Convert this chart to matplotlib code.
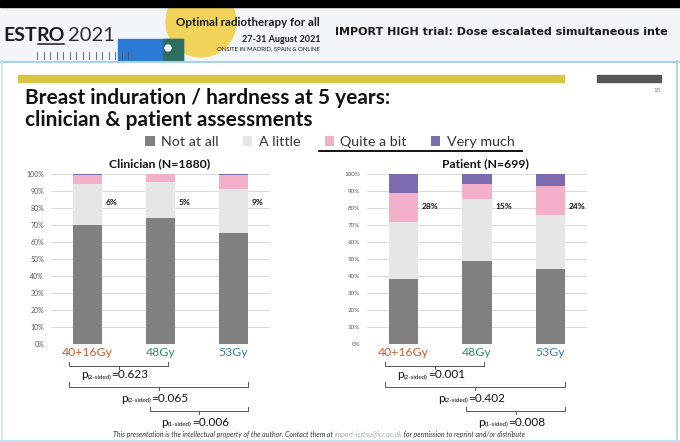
import matplotlib
matplotlib.use('Agg')
import matplotlib.pyplot as plt
from matplotlib.patches import Rectangle, Circle, Patch
from matplotlib.transforms import blended_transform_factory

plt.rcParams['font.family'] = ['Lato', 'DejaVu Sans']

# data
groups = ['40+16Gy', '48Gy', '53Gy']
group_colors = ['#C8602E', '#2E8B6C', '#3A7DB5']
levels = ['Not at all', 'A little', 'Quite a bit', 'Very much']
level_colors = ['#808080', '#E6E6E6', '#F4B0CA', '#7D6BAF']

clinician_not = [70, 74, 65]
clinician_little = [24, 21, 26]
clinician_quite = [5.4, 5.0, 8.3]
clinician_very = [0.6, 0.0, 0.7]

patient_not = [38, 49, 44]
patient_little = [34, 36, 32]
patient_quite = [17, 9, 17]
patient_very = [11, 6, 7]

comparisons = [(0, 1), (0, 2), (1, 2)]
p_sides = ['2-sided', '2-sided', '1-sided']
clinician_p = ['0.623', '0.065', '0.006']
patient_p = ['0.001', '0.402', '0.008']

W, H = 680, 442
fig = plt.figure(figsize=(W / 100, H / 100), dpi=100)
fig.patch.set_facecolor('white')

# background axes in pixel coordinates for the slide decorations
bg = fig.add_axes([0, 0, 1, 1])
bg.set_xlim(0, W)
bg.set_ylim(H, 0)
bg.axis('off')

# header
bg.add_patch(Rectangle((0, 7), W, 54, color='#F3F6F9', zorder=0))
bg.add_patch(Circle((201, 22), 35, color='#F2D35A', zorder=1))
bg.add_patch(Rectangle((118, 39), 65, 22, color='#2B7BD6', zorder=2))
bg.add_patch(Rectangle((163, 39), 20, 22, color='#2F6E5E', zorder=2))
bg.add_patch(Circle((168, 48), 3, color='white', zorder=3))
bg.add_patch(Rectangle((0, 0), W, 7, color='black', zorder=4))
for k in range(15):
    bg.plot([37 + k * 6.5, 37 + k * 6.5], [52, 59], color='#4A5566', lw=0.6, zorder=3)

e1 = bg.text(3, 41, 'EST', fontsize=14, fontweight='bold', va='baseline', ha='left',
             color='#1A1A1A', zorder=5)
e2 = bg.annotate('RO', xy=(1, 0), xycoords=e1, fontsize=14, fontweight='bold', va='bottom',
                 ha='left', color='#1A1A1A', zorder=5)
bg.annotate('2021', xy=(1, 0), xycoords=e2, xytext=(2, 0), textcoords='offset points',
            fontsize=14.5, va='bottom', ha='left', color='#2A2A2A', zorder=5)
bg.text(320, 23, 'Optimal radiotherapy for all', fontsize=8.3, fontweight='bold',
        ha='right', va='center', color='#1A1A1A', zorder=5)
bg.text(320, 39, '27-31 August 2021', fontsize=6.5, fontweight='bold',
        ha='right', va='center', color='#1A1A1A', zorder=5)
bg.text(320, 49, 'ONSITE IN MADRID, SPAIN & ONLINE', fontsize=4.3,
        ha='right', va='center', color='#1A1A1A', zorder=5)
bg.text(335, 32, 'IMPORT HIGH trial: Dose escalated simultaneous inte', fontsize=8.0,
        fontweight='bold', family=['DejaVu Sans'], ha='left', va='center', color='#1A1A1A', zorder=5)

# slide frame
bg.plot([0, W], [61.5, 61.5], color='#A9D2EA', lw=1.5)
bg.plot([1.5, 1.5], [61, H], color='#C7E3F2', lw=1.2)
bg.plot([677, 677], [61, H], color='#A9D2EA', lw=1.2)
bg.plot([0, W], [440.5, 440.5], color='#C7E3F2', lw=1.5)

# bars at the top of the slide
bg.add_patch(Rectangle((18, 75), 546, 7, color='#D8C543'))
bg.add_patch(Rectangle((597, 75), 64, 7, color='#575757'))
bg.text(661, 90, '15', fontsize=4.5, color='#777777', ha='right', va='center')

# title
bg.text(25, 98, 'Breast induration / hardness at 5 years:', fontsize=15, fontweight='bold',
        ha='left', va='center', color='#111111')
bg.text(25, 120, 'clinician & patient assessments', fontsize=15, fontweight='bold',
        ha='left', va='center', color='#111111')

# legend
handles = [Patch(facecolor=c, edgecolor='none') for c in level_colors]
fig.legend(handles, levels, loc='center', bbox_to_anchor=(330 / W, 1 - 142 / H), ncol=4,
           frameon=False, fontsize=10.3, handlelength=0.65, handleheight=0.65,
           handletextpad=0.45, columnspacing=1.7, labelcolor='#333333')
bg.plot([319, 522], [151, 151], color='black', lw=1.3)

# underline for "RO" in the logo, placed after measuring the text
fig.canvas.draw()
rend = fig.canvas.get_renderer()
bb = e2.get_window_extent(rend).transformed(bg.transData.inverted())
bg.plot([bb.x0 + 1, bb.x1 - 1], [43.5, 43.5], color='#1A1A1A', lw=1.1, zorder=5)


def px_axes(x0, x1, y0, y1):
    return fig.add_axes([x0 / W, 1 - y1 / H, (x1 - x0) / W, (y1 - y0) / H])


def draw_panel(ax, title, title_x, vals, pvals, label_y, tick_size):
    x = range(len(groups))
    bottom = [0] * len(groups)
    for v, c in zip(vals, level_colors):
        ax.bar(x, v, width=0.4, bottom=bottom, color=c, zorder=2)
        bottom = [b + vv for b, vv in zip(bottom, v)]
    ax.set_xlim(-0.5, 2.5)
    ax.set_ylim(0, 100)
    ax.set_yticks(range(0, 101, 10))
    ax.set_yticklabels([f'{t}%' for t in range(0, 101, 10)], fontsize=tick_size, color='#595959')
    ax.yaxis.grid(True, color='#D9D9D9', lw=0.7)
    ax.set_axisbelow(True)
    ax.tick_params(axis='y', length=0, pad=5)
    ax.tick_params(axis='x', length=0, pad=2.5)
    ax.set_xticks(list(x))
    ax.set_xticklabels(groups, fontsize=8.8)
    for lab, c in zip(ax.get_xticklabels(), group_colors):
        lab.set_color(c)
    for s in ax.spines.values():
        s.set_visible(False)
    ax.set_facecolor('none')

    # share of "quite a bit" + "very much"
    for i in x:
        ax.text(i + 0.25, label_y, f'{round(vals[2][i] + vals[3][i])}%', fontsize=6,
                fontweight='bold', ha='left', va='center', color='#111111')

    bg.text(title_x, 164, title, fontsize=8.8, fontweight='bold', ha='center', va='center',
            color='#111111')

    # brackets with p-values
    tr = blended_transform_factory(ax.transData, bg.transData)
    line_y = [366, 386.5, 411]
    text_y = [378, 401.5, 425.5]
    for (a, b), side, p, ly, ty in zip(comparisons, p_sides, pvals, line_y, text_y):
        left = a - 0.25 if a == 0 else a - 0.15
        right = b + 0.1 if b == 1 else b + 0.2
        mid = (left + right) / 2
        bg.plot([left, left, right, right], [ly - 4.5, ly, ly, ly - 4.5], color='#555555',
                lw=0.7, transform=tr, solid_joinstyle='round')
        bg.plot([mid, mid], [ly, ly + 3], color='#555555', lw=0.7, transform=tr)
        tp = bg.annotate('p', xy=(mid, ty), xycoords=tr, xytext=(-27, 0),
                         textcoords='offset points', fontsize=8.5, ha='left', va='baseline',
                         color='#111111')
        ts = bg.annotate(f'({side})', xy=(1, 0), xycoords=tp, fontsize=4.5, ha='left',
                         va='bottom', color='#111111')
        bg.annotate(f'={p}', xy=(1, 0), xycoords=ts, fontsize=8.5, ha='left', va='bottom',
                    color='#111111')


ax1 = px_axes(51, 270, 174, 344)
draw_panel(ax1, 'Clinician (N=1880)', 160,
           [clinician_not, clinician_little, clinician_quite, clinician_very],
           clinician_p, 83.5, 5)

ax2 = px_axes(367, 587, 174, 344)
draw_panel(ax2, 'Patient (N=699)', 485,
           [patient_not, patient_little, patient_quite, patient_very],
           patient_p, 81, 4.5)

# footer
f1 = bg.text(113, 437, 'This presentation is the intellectual property of the author. Contact them at ',
             fontsize=5.0, style='italic', ha='left', va='baseline', color='#333333')
f2 = bg.annotate('import-icrtsu@icr.ac.uk', xy=(1, 0), xycoords=f1, fontsize=5.0, style='italic',
                 ha='left', va='bottom', color='#A8A8A8')
bg.annotate(' for permission to reprint and/or distribute', xy=(1, 0), xycoords=f2, fontsize=5.0,
            style='italic', ha='left', va='bottom', color='#333333')

fig.savefig('out.png', dpi=100)
